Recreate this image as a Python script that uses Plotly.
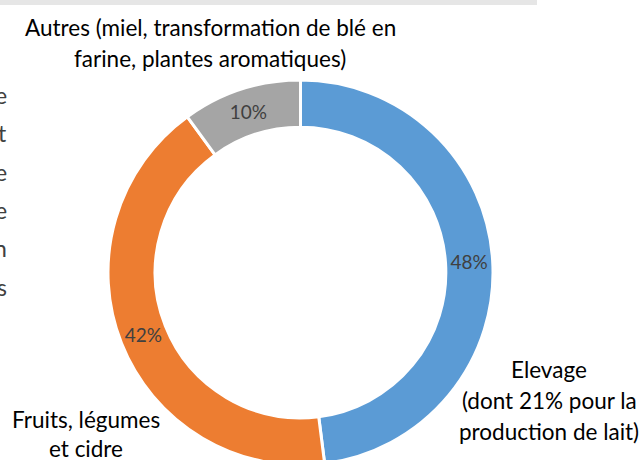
import plotly.graph_objects as go

# ---- data ----
categories = [
    "Elevage (dont 21% pour la production de lait)",
    "Fruits, légumes et cidre",
    "Autres (miel, transformation de blé en farine, plantes aromatiques)",
]
values = [48, 42, 10]
colors = ["#5B9BD5", "#ED7D31", "#A5A5A5"]

label_elevage = ["Elevage", "(dont 21% pour la", "production de lait)"]
label_fruits = ["Fruits, légumes", "et cidre"]
label_autres = ["Autres (miel, transformation de blé en", "farine, plantes aromatiques)"]
paragraph_tail = ["e", "t", "e", "e", "n", "s"]

W, H = 642, 465  # figure slightly taller than the 460 view: ring is cut at the bottom
FONT = "Lato"


def px(x):
    return x / W


def py(y):
    return 1 - y / H


# pie geometry (pixels)
cx, top, r = 300.5, 80, 192.5

fig = go.Figure(
    go.Pie(
        labels=categories,
        values=values,
        sort=False,
        direction="clockwise",
        rotation=0,
        hole=0.755,
        marker=dict(colors=colors, line=dict(color="white", width=3)),
        textinfo="percent",
        textposition="inside",
        insidetextorientation="horizontal",
        textfont=dict(family=FONT, size=19, color="#404040"),
        hoverinfo="label+percent",
        showlegend=False,
        domain=dict(x=[px(cx - r), px(cx + r)], y=[max(0, py(top + 2 * r)), py(top)]),
    )
)

annotations = []


def add_lines(lines, x, y0, dy, size=22.5):
    for i, t in enumerate(lines):
        annotations.append(
            dict(
                text=t,
                x=px(x),
                y=py(y0 + i * dy),
                xref="paper",
                yref="paper",
                xanchor="center",
                yanchor="middle",
                showarrow=False,
                font=dict(family=FONT, size=size, color="#000000"),
            )
        )


add_lines(label_autres, 210, 27, 31)
add_lines(label_elevage, 549, 369, 31)
add_lines(label_fruits, 86, 419, 29)

for i, t in enumerate(paragraph_tail):
    annotations.append(
        dict(
            text=t,
            x=px(9),
            y=py(95 + i * 38.3),
            xref="paper",
            yref="paper",
            xanchor="right",
            yanchor="middle",
            showarrow=False,
            font=dict(family=FONT, size=23, color="#404040"),
        )
    )

fig.update_layout(
    width=W,
    height=H,
    margin=dict(l=0, r=0, t=0, b=0),
    paper_bgcolor="white",
    plot_bgcolor="white",
    annotations=annotations,
    shapes=[
        dict(
            type="rect",
            xref="paper",
            yref="paper",
            x0=0,
            x1=px(537),
            y0=py(5),
            y1=1,
            fillcolor="#E6E6E6",
            line=dict(width=0),
            layer="below",
        )
    ],
)

fig.write_html(
    "out.html",
    config={"displayModeBar": False},
    post_script=(
        "document.body.style.margin='0';"
        "document.body.style.overflow='hidden';"
        "document.documentElement.style.overflow='hidden';"
    ),
)
